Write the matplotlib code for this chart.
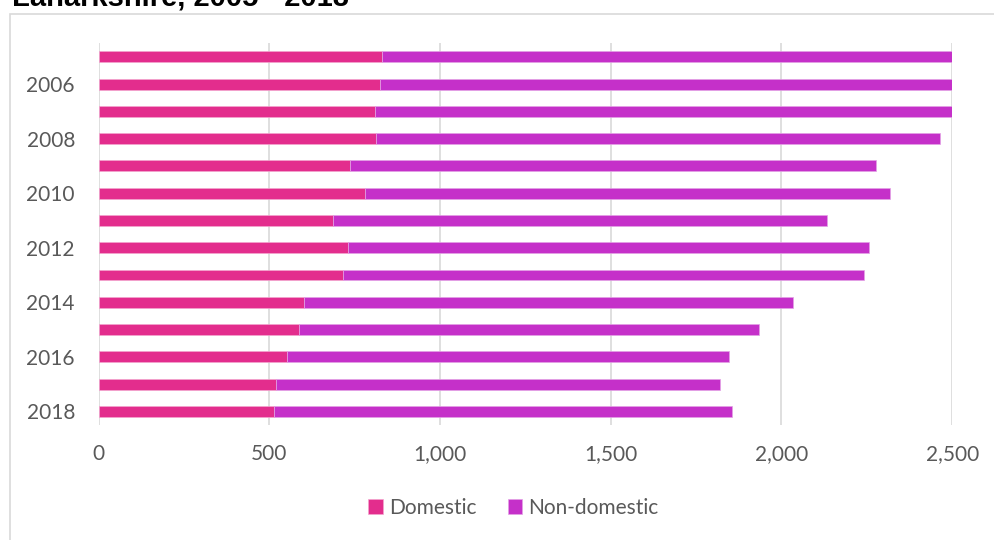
import matplotlib
matplotlib.use("Agg")
import matplotlib.pyplot as plt
from matplotlib.patches import Rectangle
from matplotlib.ticker import FuncFormatter

years = list(range(2005, 2019))
domestic = [829, 824, 811, 812, 737, 780, 686, 732, 717, 603, 586, 553, 521, 515]
non_domestic = [1671, 1676, 1689, 1651, 1540, 1537, 1447, 1524, 1524, 1430, 1349, 1293, 1300, 1340]
labels = ["Domestic", "Non-domestic"]
colors = ["#E32D8D", "#C530C9"]
grey = "#595959"

plt.rcParams["font.family"] = ["Lato", "DejaVu Sans"]

fig = plt.figure(figsize=(9.95, 5.4), dpi=100)
ax = fig.add_axes([0.099, 0.213, 0.858, 0.707])

# chart frame like the excel chart area
fig.patches.append(Rectangle((10 / 995, -0.1), 1.2, 1.1 - 14 / 540, transform=fig.transFigure,
                             facecolor="none", edgecolor="#d9d9d9", linewidth=1.2))
fig.text(12 / 995, 1 - 6 / 540, "Lanarkshire, 2005 - 2018", fontsize=21, fontweight="bold",
         va="baseline", ha="left", color="black", family="Liberation Sans")

pos = list(range(len(years)))
ax.barh(pos, domestic, height=0.4, color=colors[0], label=labels[0],
        edgecolor="#f3a6cf", linewidth=0.5, zorder=3)
ax.barh(pos, non_domestic, left=domestic, height=0.4, color=colors[1], label=labels[1],
        edgecolor="#e3a2e5", linewidth=0.5, zorder=3)

ax.set_xlim(0, 2500)
ax.set_ylim(len(years) - 0.5, -0.5)
ax.set_xticks(range(0, 2501, 500))
ax.xaxis.set_major_formatter(FuncFormatter(lambda v, p: f"{int(v):,}"))
ax.set_yticks(pos[1::2])
ax.set_yticklabels([str(y) for y in years[1::2]])
ax.tick_params(axis="both", length=0, labelsize=15, colors=grey)
ax.tick_params(axis="y", pad=17)
ax.tick_params(axis="x", pad=14)
ax.grid(axis="x", color="#d9d9d9", linewidth=1.2, zorder=0)
for s in ax.spines.values():
    s.set_visible(False)

leg = fig.legend(loc="center", bbox_to_anchor=(0.516, 1 - 508 / 540), ncol=2, frameon=False,
                 fontsize=15, handlelength=0.7, handleheight=0.7, handletextpad=0.3,
                 columnspacing=1.5)
for t in leg.get_texts():
    t.set_color(grey)

fig.savefig("out.png", dpi=100)
